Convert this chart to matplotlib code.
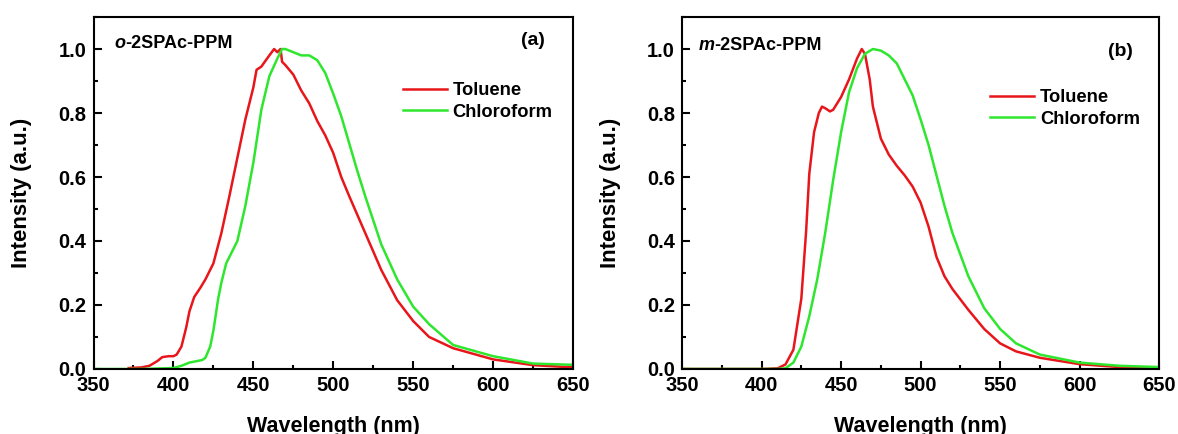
import numpy as np
import matplotlib
matplotlib.use('Agg')
from matplotlib import pyplot as plt
from matplotlib.ticker import MultipleLocator

# (a) o-2SPAc-PPM
a_tol_wl = [372, 380, 385, 390, 393, 397, 400, 402, 405, 408, 410, 413, 417, 420, 425,
            430, 435, 440, 445, 450, 452, 455, 460, 463, 465, 467, 468, 470, 475, 480,
            485, 490, 495, 500, 505, 510, 520, 530, 540, 550, 560, 575, 600, 625, 650]
a_tol_int = [0.003, 0.005, 0.01, 0.025, 0.037, 0.04, 0.04, 0.045, 0.07, 0.13, 0.18, 0.225, 0.255, 0.28, 0.33,
             0.425, 0.54, 0.66, 0.78, 0.88, 0.935, 0.945, 0.98, 1.0, 0.99, 1.0, 0.96, 0.95, 0.92, 0.87,
             0.83, 0.775, 0.73, 0.675, 0.60, 0.54, 0.425, 0.31, 0.215, 0.15, 0.10, 0.065, 0.03, 0.012, 0.005]
a_chl_wl = [350, 380, 400, 405, 410, 418, 420, 423, 425, 428, 430, 433, 435, 440, 445,
            450, 455, 460, 465, 468, 470, 475, 480, 485, 490, 495, 500, 505, 510, 515,
            520, 530, 540, 550, 560, 575, 600, 625, 650]
a_chl_int = [0.0, 0.0, 0.003, 0.01, 0.02, 0.028, 0.035, 0.07, 0.12, 0.22, 0.27, 0.33, 0.35, 0.40, 0.51,
             0.645, 0.81, 0.915, 0.97, 1.0, 1.0, 0.99, 0.98, 0.98, 0.965, 0.925, 0.86, 0.79, 0.705, 0.62,
             0.54, 0.39, 0.28, 0.195, 0.14, 0.075, 0.04, 0.017, 0.013]

# (b) m-2SPAc-PPM
b_tol_wl = [350, 400, 410, 415, 420, 425, 428, 430, 433, 436, 438, 440, 443, 445, 450,
            455, 460, 463, 465, 468, 470, 475, 480, 485, 490, 495, 500, 505, 510, 515,
            520, 530, 540, 550, 560, 575, 600, 625, 650]
b_tol_int = [0.0, 0.0, 0.002, 0.014, 0.06, 0.22, 0.43, 0.61, 0.74, 0.80, 0.82, 0.815, 0.805, 0.81, 0.85,
             0.905, 0.97, 1.0, 0.985, 0.905, 0.82, 0.72, 0.67, 0.635, 0.605, 0.57, 0.52, 0.445, 0.35, 0.29,
             0.25, 0.185, 0.125, 0.08, 0.055, 0.035, 0.015, 0.006, 0.003]
b_chl_wl = [350, 410, 415, 420, 425, 430, 435, 440, 445, 450, 455, 460, 465, 470, 475,
            480, 485, 490, 495, 500, 505, 510, 515, 520, 530, 540, 550, 560, 575, 600,
            625, 650]
b_chl_int = [0.0, 0.0, 0.002, 0.02, 0.07, 0.165, 0.28, 0.425, 0.59, 0.74, 0.865, 0.94, 0.985, 1.0, 0.995,
             0.98, 0.955, 0.905, 0.855, 0.78, 0.70, 0.605, 0.51, 0.425, 0.29, 0.19, 0.125, 0.08, 0.045, 0.02,
             0.01, 0.006]

RED = '#e8161b'
GREEN = '#2ee62e'

plt.rcParams.update({
    'font.family': ['Liberation Sans', 'DejaVu Sans'],
    'font.weight': 'bold',
    'axes.labelweight': 'bold',
    'axes.linewidth': 1.5,
})

fig = plt.figure(figsize=(11.78, 4.34), dpi=100)
ax1 = fig.add_axes([0.0794, 0.1498, 0.407, 0.811])
ax2 = fig.add_axes([0.579, 0.1498, 0.405, 0.811])

panels = [
    (ax1, a_tol_wl, a_tol_int, a_chl_wl, a_chl_int, 'o', '(a)', (0.043, 0.926), (0.917, 0.932), (0.645, 0.815)),
    (ax2, b_tol_wl, b_tol_int, b_chl_wl, b_chl_int, 'm', '(b)', (0.034, 0.92), (0.918, 0.903), (0.646, 0.795)),
]

for ax, tw, ti, cw, ci, pre, tag, name_xy, tag_xy, leg_xy in panels:
    ax.plot(tw, ti, color=RED, lw=1.8, label='Toluene')
    ax.plot(cw, ci, color=GREEN, lw=1.8, label='Chloroform')
    ax.set_xlim(350, 650)
    ax.set_ylim(0, 1.1)
    ax.xaxis.set_major_locator(MultipleLocator(50))
    ax.xaxis.set_minor_locator(MultipleLocator(25))
    ax.yaxis.set_major_locator(MultipleLocator(0.2))
    ax.yaxis.set_minor_locator(MultipleLocator(0.1))
    ax.yaxis.set_major_formatter(matplotlib.ticker.FormatStrFormatter('%.1f'))
    ax.tick_params(which='both', direction='in', width=1.5, labelsize=14.5)
    ax.tick_params(which='major', length=5.5)
    ax.tick_params(which='minor', length=3)
    ax.tick_params(axis='y', pad=5)
    ax.tick_params(axis='x', pad=5)
    ax.set_xlabel('Wavelength (nm)', fontsize=15.5, labelpad=15)
    ax.set_ylabel('Intensity (a.u.)', fontsize=16, labelpad=19)

    t1 = ax.text(name_xy[0], name_xy[1], pre, transform=ax.transAxes, fontsize=13,
                 fontweight='bold', style='italic', va='center', ha='left')
    ax.annotate('-2SPAc-PPM', xy=(1, 0.5), xycoords=t1, fontsize=13, fontweight='bold',
                va='center', ha='left')
    ax.text(tag_xy[0], tag_xy[1], tag, transform=ax.transAxes, fontsize=14,
            fontweight='bold', va='center', ha='center')

    ax.legend(loc='upper left', bbox_to_anchor=leg_xy, frameon=False, fontsize=13.2,
              handlelength=2.4, handletextpad=0.3, labelspacing=0.25, borderpad=0,
              borderaxespad=0)

fig.savefig('out.png', dpi=100, facecolor='white')
